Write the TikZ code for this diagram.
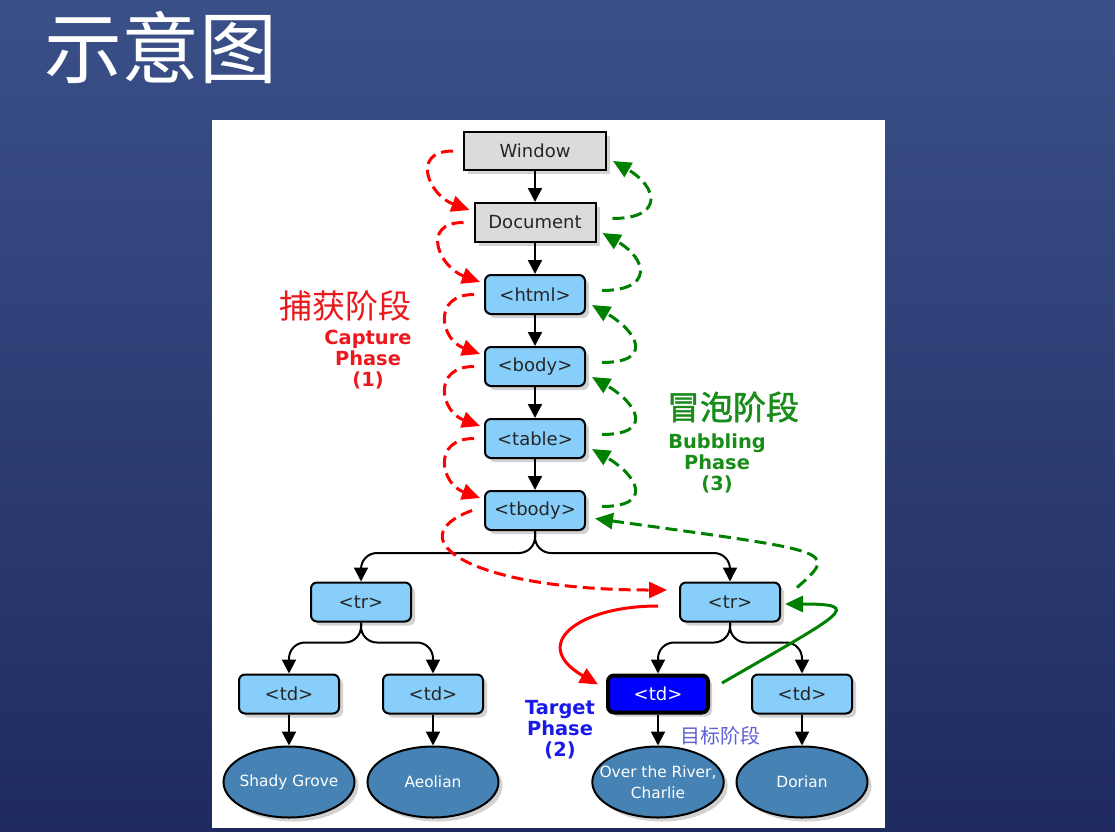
\documentclass[tikz,border=0pt]{standalone}
\usepackage{fontspec}
\setmainfont{DejaVu Sans}
\newfontfamily\cjk{Noto Sans CJK SC}
\newfontfamily\cjkbold[FakeBold=1.5]{Noto Sans CJK SC}
\usepackage{tikz}
\usetikzlibrary{arrows.meta,positioning,shapes.geometric,shadows}

\definecolor{bgtop}{RGB}{58,80,136}
\definecolor{bgbot}{RGB}{31,43,96}
\definecolor{nodeblue}{RGB}{135,206,250}
\definecolor{leafblue}{RGB}{70,130,180}
\definecolor{capred}{RGB}{255,0,0}
\definecolor{captext}{RGB}{235,25,30}
\definecolor{bubgreen}{RGB}{0,128,0}
\definecolor{bubtext}{RGB}{25,140,25}
\definecolor{tgtblue}{RGB}{25,25,235}
\definecolor{zhpurple}{RGB}{95,95,215}

\begin{document}
\begin{tikzpicture}[x=0.5pt,y=-0.5pt,
node distance=15.5pt,
elem/.style={draw,line width=1pt,fill=nodeblue,rounded corners=3pt,minimum width=50pt,minimum height=19.5pt,inner sep=0pt,text=black!85,font=\fontsize{9}{11}\selectfont,drop shadow={shadow xshift=2pt,shadow yshift=-2pt,opacity=0.35}},
winbox/.style={elem,sharp corners,fill=gray!28},
leafnode/.style={ellipse,draw,line width=1pt,fill=leafblue,minimum width=65.5pt,minimum height=35.5pt,inner xsep=-6pt,inner ysep=0pt,align=center,text=white,font=\fontsize{7.7}{10.5}\selectfont,drop shadow={shadow xshift=2pt,shadow yshift=-2pt,opacity=0.35}},
phase/.style={align=center,font=\bfseries\fontsize{9.7}{10.5}\selectfont},
link/.style={-{Triangle[length=7pt,width=7pt]},line width=1pt,rounded corners=8pt},
capture/.style={capred,line width=1.5pt,dash pattern=on 6pt off 3pt,-{Triangle[length=9pt,width=8pt]}},
capsolid/.style={capred,line width=1.5pt,-{Triangle[length=9pt,width=8pt]}},
bubble/.style={bubgreen,line width=1.5pt,dash pattern=on 6pt off 3pt,-{Triangle[length=9pt,width=8pt]}},
bubsolid/.style={bubgreen,line width=1.5pt,-{Triangle[length=9pt,width=8pt]}}
]
\useasboundingbox (0,0) rectangle (1115,831);
\shade[top color=bgtop,bottom color=bgbot] (0,0) rectangle (1115,831);
\fill[white] (212,120) rectangle (885,828);

\node[text=white,font=\cjk\fontsize{39}{39}\selectfont] (title) at (161,48) {示意图};

% DOM chain
\node[winbox,minimum width=71pt,minimum height=19pt] (win) at (535,151) {Window};
\node[winbox,minimum width=60.5pt,below=of win] (doc) {Document};
\node[elem,below=of doc] (html) {<html>};
\node[elem,below=of html] (body) {<body>};
\node[elem,below=of body] (tbl) {<table>};
\node[elem,below=of tbl] (tbody) {<tbody>};

\node[elem] (tr1) at (361,602) {<tr>};
\node[elem] (tr2) at (730,602) {<tr>};
\node[elem] (td1) at (289,694) {<td>};
\node[elem] (td2) at (433,694) {<td>};
\node[elem,fill=blue,line width=2pt,text=white,minimum height=18.5pt] (td3) at (658,694) {<td>};
\node[elem] (td4) at (802,694) {<td>};

\node[leafnode] (leaf1) at (289,782) {Shady Grove};
\node[leafnode] (leaf2) at (433,782) {Aeolian};
\node[leafnode] (leaf3) at (658,782) {Over the River,\\Charlie};
\node[leafnode] (leaf4) at (802,782) {Dorian};

% labels
\node[text=captext,font=\cjk\fontsize{16.5}{18}\selectfont] (capzh) at (345,306) {捕获阶段};
\node[phase,text=captext] (captxt) at (368,360) {Capture\\Phase\\(1)};
\node[text=bubtext,font=\cjkbold\fontsize{16.5}{18}\selectfont] (bubzh) at (733,407) {冒泡阶段};
\node[phase,text=bubtext] (bubtxt) at (717,463) {Bubbling\\Phase\\(3)};
\node[phase,text=tgtblue] (tgttxt) at (560,730) {Target\\Phase\\(2)};
\node[text=zhpurple,font=\cjk\fontsize{10}{12}\selectfont] (tgtzh) at (720,736) {目标阶段};

% tree edges
\foreach \a/\b in {win/doc,doc/html,html/body,body/tbl,tbl/tbody,td1/leaf1,td2/leaf2,td3/leaf3,td4/leaf4}
  \draw[link] (\a) -- (\b);
\foreach \a/\b in {tbody/tr1,tbody/tr2}
  \draw[link] (\a.south) -- ++(0pt,-11pt) -| (\b.north);
\foreach \a/\b in {tr1/td1,tr1/td2,tr2/td3,tr2/td4}
  \draw[link] (\a.south) -- ++(0pt,-10pt) -| (\b.north);

% capture and bubbling
\foreach \a/\b in {win/doc,doc/html,html/body,body/tbl,tbl/tbody}{
  \draw[capture] ([xshift=-5pt]\a.west) to[out=180,in=160,looseness=1.8] ([shift={(-2pt,-4pt)}]\b.north west);
  \draw[bubble] ([shift={(8pt,2pt)}]\b.east) to[out=0,in=-30,looseness=2.3] ([shift={(3pt,5pt)}]\a.south east);
}
\draw[capture] ([xshift=-6pt]tbody.west) .. controls +(200:40pt) and +(180:100pt) .. ([shift={(-6pt,6pt)}]tr2.west);
\draw[capsolid] ([shift={(-10.5pt,-2pt)}]tr2.west) .. controls +(180:40pt) and +(150:40pt) .. ([shift={(-4pt,-5.5pt)}]td3.north west);
\draw[bubsolid] ([shift={(6pt,5.5pt)}]td3.east) .. controls +(30:70pt) and +(0:40pt) .. ([shift={(2pt,-1pt)}]tr2.east);
\draw[bubble] ([shift={(8pt,-3pt)}]tr2.north east) .. controls +(41:29pt) and +(-8:119pt) .. ([shift={(4.5pt,-4pt)}]tbody.east);
\end{tikzpicture}
\end{document}
